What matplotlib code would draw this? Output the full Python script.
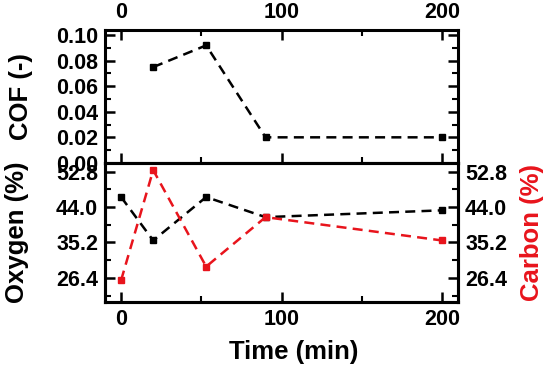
import matplotlib.pyplot as plt
from matplotlib.ticker import MultipleLocator, FixedLocator

plt.rcParams['font.family'] = ['Liberation Sans', 'DejaVu Sans']
plt.rcParams['font.weight'] = 'bold'
plt.rcParams['axes.labelweight'] = 'bold'
plt.rcParams['font.size'] = 15.5

# Data
time = [0, 20, 53, 90, 200]
cof_time = [20, 53, 90, 200]
cof = [0.075, 0.092, 0.02, 0.02]
oxygen = [46.5, 35.7, 46.5, 41.5, 43.2]
carbon = [25.8, 53.2, 29.2, 41.5, 35.7]

x_ticks = [0, 100, 200]
comp_ticks = [26.4, 35.2, 44.0, 52.8]
red = '#e8141c'

fig = plt.figure(figsize=(5.5, 3.71), dpi=100)
left, width = 0.191, 0.642
ax1 = fig.add_axes([left, 0.561, width, 0.358])
ax2 = fig.add_axes([left, 0.186, width, 0.375], sharex=ax1)
ax3 = ax2.twinx()


def style(ax):
    for s in ax.spines.values():
        s.set_linewidth(2.2)
    ax.tick_params(which='major', direction='in', length=7, width=1.8, pad=5)
    ax.tick_params(which='minor', direction='in', length=4, width=1.5)


for ax in (ax1, ax2, ax3):
    style(ax)

# Top panel: COF
ax1.plot(cof_time, cof, 'k--', marker='s', ms=4, lw=1.8, dashes=(4, 2.5))
ax1.set_xlim(-10, 210)
ax1.set_ylim(0, 0.104)
ax1.xaxis.set_major_locator(FixedLocator(x_ticks))
ax1.xaxis.set_minor_locator(MultipleLocator(50))
ax1.yaxis.set_major_locator(MultipleLocator(0.02))
ax1.yaxis.set_minor_locator(MultipleLocator(0.01))
ax1.yaxis.set_major_formatter(plt.FormatStrFormatter('%.2f'))
ax1.tick_params(axis='x', which='both', top=True, bottom=True,
                labeltop=True, labelbottom=False)
ax1.tick_params(axis='y', which='both', left=True, right=True)
ax1.set_ylabel('COF (-)', fontsize=18.5)

# Bottom panel: oxygen and carbon
ax2.plot(time, oxygen, 'k--', marker='s', ms=4, lw=1.8, dashes=(4, 2.5))
ax3.plot(time, carbon, '--', color=red, marker='s', ms=4, lw=1.8, dashes=(4, 2.5))
for ax in (ax2, ax3):
    ax.set_ylim(20.4, 55.0)
    ax.yaxis.set_major_locator(FixedLocator(comp_ticks))
    ax.yaxis.set_minor_locator(MultipleLocator(4.4))
    ax.yaxis.set_major_formatter(plt.FormatStrFormatter('%.1f'))
ax2.tick_params(axis='x', which='both', top=False, bottom=True)
ax2.set_xlabel('Time (min)', fontsize=18.5)
ax2.set_ylabel('Oxygen (%)', fontsize=18.5)
ax3.set_ylabel('Carbon (%)', fontsize=18.5, color=red)

ax1.yaxis.set_label_coords(-0.205, 0.5)
ax2.yaxis.set_label_coords(-0.215, 0.5)
ax3.yaxis.set_label_coords(1.175, 0.5)
ax2.xaxis.set_label_coords(0.534, -0.27)

fig.savefig('out.png', dpi=100)
